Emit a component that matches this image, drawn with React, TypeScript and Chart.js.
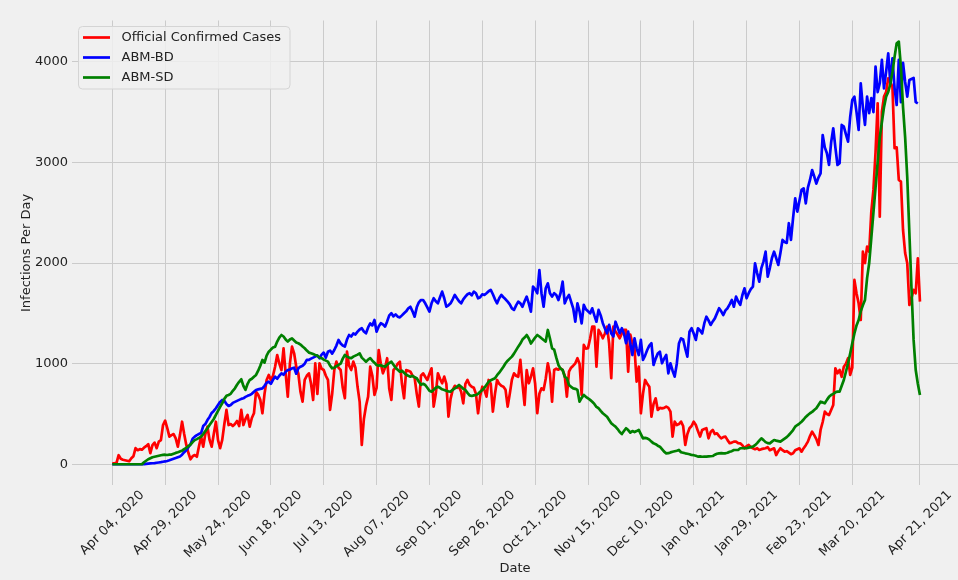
import { useEffect, useRef } from "react";
import { Chart, registerables } from "chart.js";

Chart.register(...registerables);

// x = days since Apr 04, 2020
const xTickDays = [0, 25, 50, 75, 100, 125, 150, 175, 200, 225, 250, 275, 300, 325, 350, 382];
const xTickLabels = [
  "Apr 04, 2020", "Apr 29, 2020", "May 24, 2020", "Jun 18, 2020", "Jul 13, 2020",
  "Aug 07, 2020", "Sep 01, 2020", "Sep 26, 2020", "Oct 21, 2020", "Nov 15, 2020",
  "Dec 10, 2020", "Jan 04, 2021", "Jan 29, 2021", "Feb 23, 2021", "Mar 20, 2021",
  "Apr 21, 2021",
];
const yTicks = [0, 1000, 2000, 3000, 4000];

const seriesNames = ["Official Confirmed Cases", "ABM-BD", "ABM-SD"];

const officialCases = [
  10, 10, 15, 90, 55, 45, 40, 35, 30, 60,
  80, 160, 140, 150, 145, 165, 180, 200, 110, 190,
  215, 160, 225, 240, 390, 433, 360, 275, 290, 300,
  258, 175, 290, 423, 300, 192, 112, 50, 80, 92,
  75, 180, 275, 175, 300, 374, 242, 175, 300, 423,
  240, 160, 242, 400, 540, 390, 400, 380, 400, 430,
  380, 540, 390, 450, 490, 374, 460, 507, 722, 690,
  640, 507, 700, 838, 888, 838, 880, 970, 1086, 1000,
  937, 1153, 900, 672, 1000, 1169, 1103, 970, 900, 720,
  622, 838, 880, 904, 800, 639, 1004, 700, 1004, 950,
  937, 880, 838, 540, 700, 937, 1020, 960, 937, 760,
  656, 1119, 980, 937, 1020, 960, 770, 620, 192, 450,
  580, 672, 970, 880, 689, 760, 1136, 1000, 904, 960,
  1054, 750, 639, 937, 960, 1000, 1020, 800, 656, 937,
  930, 920, 880, 860, 700, 573, 880, 904, 870, 838,
  900, 954, 573, 700, 904, 850, 805, 871, 800, 473,
  650, 740, 780, 760, 771, 720, 606, 800, 838, 790,
  771, 760, 700, 507, 680, 771, 740, 672, 838, 800,
  523, 700, 838, 800, 780, 771, 740, 573, 700, 840,
  904, 880, 870, 1037, 805, 590, 937, 805, 870, 954,
  800, 507, 700, 755, 739, 850, 1004, 900, 622, 937,
  950, 940, 954, 937, 880, 672, 920, 960, 980, 1004,
  1054, 1000, 689, 1186, 1150, 1153, 1250, 1368, 1368, 970,
  1335, 1300, 1252, 1300, 1368, 1200, 855, 1368, 1320, 1290,
  1252, 1300, 1335, 1335, 920, 1290, 1200, 1150, 821, 970,
  507, 700, 838, 800, 771, 473, 600, 656, 540, 560,
  556, 560, 573, 560, 523, 275, 424, 390, 400, 424,
  380, 192, 300, 358, 380, 424, 390, 330, 275, 341,
  350, 358, 258, 320, 341, 300, 308, 280, 258, 270,
  275, 240, 209, 215, 225, 225, 210, 208, 190, 159,
  180, 192, 170, 159, 150, 160, 142, 150, 155, 159,
  170, 140, 150, 159, 92, 130, 159, 140, 125, 130,
  115, 100, 109, 140, 150, 159, 125, 160, 190, 225,
  280, 324, 290, 250, 192, 341, 420, 523, 500, 490,
  540, 590, 954, 904, 937, 870, 970, 1000, 1054, 888,
  960, 1832, 1700, 1600, 1434, 2113, 2000, 2163, 2113, 2511,
  2727, 3100, 3588, 2461, 3505, 3654, 3700, 3837, 3800, 3750,
  3141, 3150, 2826, 2810, 2329, 2100, 1998, 1583, 1650, 1733,
  1700, 2048, 1617,
];

const abmBD = [
  0, 0, 0, 0, 0, 0, 0, 0, 0, 0,
  0, 0, 0, 0, 0, 2, 4, 6, 8, 10,
  12, 15, 18, 21, 25, 28, 33, 40, 48, 55,
  62, 70, 78, 95, 120, 140, 170, 200, 255, 275,
  290, 300, 310, 380, 400, 440, 470, 510, 530, 557,
  590, 620, 639, 630, 600, 580, 590, 610, 620, 630,
  640, 650, 656, 670, 680, 689, 700, 720, 739, 745,
  750, 755, 780, 810, 821, 800, 840, 871, 850, 880,
  904, 890, 920, 937, 940, 954, 960, 900, 954, 970,
  980, 1000, 1037, 1037, 1050, 1060, 1070, 1080, 1054, 1090,
  1110, 1060, 1119, 1130, 1100, 1136, 1180, 1236, 1200, 1180,
  1170, 1240, 1285, 1270, 1300, 1290, 1318, 1340, 1352, 1320,
  1302, 1360, 1400, 1380, 1434, 1318, 1370, 1402, 1390, 1368,
  1420, 1480, 1501, 1470, 1490, 1467, 1460, 1480, 1501, 1520,
  1550, 1566, 1520, 1467, 1560, 1610, 1633, 1633, 1600, 1560,
  1517, 1600, 1650, 1620, 1600, 1660, 1716, 1650, 1566, 1580,
  1600, 1640, 1683, 1650, 1620, 1600, 1640, 1666, 1690, 1700,
  1680, 1716, 1700, 1650, 1660, 1690, 1683, 1700, 1720, 1733,
  1690, 1640, 1600, 1650, 1683, 1660, 1640, 1616, 1590, 1550,
  1534, 1580, 1616, 1600, 1566, 1620, 1666, 1600, 1517, 1765,
  1740, 1700, 1931, 1700, 1566, 1750, 1799, 1700, 1666, 1700,
  1683, 1633, 1700, 1815, 1600, 1650, 1683, 1616, 1550, 1417,
  1600, 1520, 1400, 1584, 1540, 1520, 1500, 1550, 1480, 1417,
  1534, 1480, 1402, 1350, 1302, 1385, 1300, 1270, 1417, 1360,
  1302, 1352, 1300, 1203, 1318, 1200, 1086, 1252, 1150, 1086,
  1236, 1037, 1080, 1136, 1180, 1203, 987, 1050, 1100, 1119,
  1004, 1050, 1086, 904, 1004, 930, 871, 1000, 1200, 1252,
  1240, 1150, 1070, 1318, 1352, 1300, 1236, 1352, 1330, 1300,
  1400, 1467, 1430, 1385, 1420, 1450, 1500, 1551, 1520, 1484,
  1530, 1551, 1590, 1633, 1566, 1666, 1620, 1584, 1680, 1749,
  1650, 1700, 1740, 1765, 1998, 1900, 1815, 1950, 2014, 2113,
  1865, 1950, 2050, 2113, 2050, 1981, 2100, 2230, 2210, 2200,
  2396, 2230, 2450, 2644, 2511, 2620, 2727, 2743, 2594, 2750,
  2826, 2925, 2860, 2790, 2850, 2892, 3273, 3150, 3091, 2975,
  3200, 3340, 3150, 2975, 2992, 3373, 3356, 3280, 3207, 3450,
  3621, 3654, 3500, 3323, 3787, 3550, 3373, 3654, 3490, 3640,
  3500, 3952, 3700, 3787, 4019, 3737, 3900, 4085, 3787, 4035,
  3737, 3571, 4019, 3600, 3990, 3800, 3654, 3820, 3830, 3840,
  3600, 3588,
];

const abmSD = [
  0, 0, 0, 0, 0, 0, 0, 0, 0, 0,
  0, 0, 0, 0, 0, 20, 35, 50, 60, 70,
  75, 80, 85, 90, 93, 95, 92, 96, 96, 105,
  113, 120, 128, 135, 150, 163, 180, 196, 220, 240,
  250, 262, 275, 300, 330, 358, 390, 420, 450, 490,
  530, 570, 606, 650, 680, 689, 700, 730, 755, 790,
  820, 845, 780, 739, 800, 838, 850, 870, 888, 930,
  980, 1037, 1010, 1080, 1119, 1140, 1160, 1169, 1220, 1260,
  1285, 1270, 1240, 1219, 1240, 1252, 1230, 1210, 1203, 1190,
  1170, 1153, 1130, 1110, 1103, 1095, 1086, 1080, 1060, 1054,
  1040, 1030, 1020, 980, 954, 960, 975, 987, 1000, 1050,
  1086, 1070, 1060, 1054, 1070, 1080, 1090, 1103, 1060, 1040,
  1020, 1040, 1054, 1030, 1010, 987, 980, 985, 975, 970,
  990, 1005, 1020, 990, 960, 940, 920, 930, 910, 890,
  880, 871, 880, 865, 855, 820, 790, 800, 788, 760,
  730, 722, 740, 760, 771, 760, 745, 739, 730, 725,
  722, 740, 755, 770, 788, 770, 750, 739, 710, 685,
  679, 685, 689, 700, 720, 739, 760, 790, 821, 835,
  845, 855, 885, 910, 940, 970, 1004, 1030, 1050, 1070,
  1100, 1135, 1169, 1200, 1240, 1260, 1285, 1250, 1200, 1230,
  1260, 1285, 1270, 1252, 1235, 1220, 1335, 1250, 1153, 1140,
  1060, 987, 950, 937, 870, 855, 788, 770, 755, 750,
  739, 622, 660, 689, 670, 656, 640, 622, 600, 570,
  557, 530, 507, 490, 473, 440, 408, 390, 374, 350,
  320, 301, 330, 358, 340, 314, 330, 320, 330, 341,
  300, 258, 262, 258, 245, 225, 208, 200, 185, 175,
  150, 125, 109, 110, 118, 125, 130, 135, 142, 120,
  115, 109, 105, 100, 92, 90, 85, 76, 78, 75,
  76, 76, 78, 80, 82, 95, 105, 109, 110, 108,
  109, 115, 125, 130, 142, 142, 142, 159, 160, 162,
  159, 165, 170, 175, 190, 210, 235, 258, 240, 220,
  210, 208, 225, 241, 235, 230, 225, 240, 255, 270,
  291, 315, 340, 374, 390, 405, 423, 445, 470, 490,
  507, 520, 540, 557, 590, 622, 615, 606, 640, 670,
  689, 700, 715, 722, 722, 780, 838, 920, 1004, 1100,
  1203, 1300, 1380, 1434, 1520, 1580, 1633, 1850, 2000, 2250,
  2500, 2750, 3000, 3250, 3400, 3550, 3654, 3700, 3780, 3900,
  4050, 4185, 4201, 3950, 3550, 3250, 2850, 2300, 1750, 1236,
  937, 800, 689,
];

const COLORS = ["#ff0000", "#0000ff", "#008000"];
const FONT = "'DejaVu Sans', 'Liberation Sans', sans-serif";
const TEXT = "#222222";
const GRID = "#cbcbcb";

export default function App() {
  const ref = useRef<HTMLCanvasElement | null>(null);

  useEffect(() => {
    const canvas = ref.current;
    if (!canvas) return;
    const toPts = (arr: number[]) => arr.map((y, x) => ({ x, y }));

    const textPlugin = {
      id: "mplText",
      afterDraw(chart: any) {
        const ctx = chart.ctx as CanvasRenderingContext2D;
        const xs = chart.scales.x;
        const area = chart.chartArea;
        ctx.save();
        ctx.fillStyle = TEXT;
        ctx.font = `13px ${FONT}`;
        // rotated x tick labels, centred on the tick
        xTickDays.forEach((d, i) => {
          const px = xs.getPixelForValue(d);
          const label = xTickLabels[i];
          const w = ctx.measureText(label).width;
          const half = ((w + 13) * Math.SQRT1_2) / 2;
          ctx.save();
          ctx.translate(px, 488.5 + half);
          ctx.rotate(-Math.PI / 4);
          ctx.textAlign = "center";
          ctx.textBaseline = "middle";
          ctx.fillText(label, 0, 0);
          ctx.restore();
        });
        // axis titles
        ctx.textAlign = "center";
        ctx.textBaseline = "middle";
        ctx.fillText("Date", (area.left + area.right) / 2, 569);
        ctx.save();
        ctx.translate(27, (area.top + area.bottom) / 2);
        ctx.rotate(-Math.PI / 2);
        ctx.fillText("Infections Per Day", 0, 0);
        ctx.restore();

        // legend
        const bx = 78.5, by = 26.5, bw = 211.5, bh = 62.5, r = 4;
        ctx.beginPath();
        ctx.moveTo(bx + r, by);
        ctx.lineTo(bx + bw - r, by);
        ctx.arcTo(bx + bw, by, bx + bw, by + r, r);
        ctx.lineTo(bx + bw, by + bh - r);
        ctx.arcTo(bx + bw, by + bh, bx + bw - r, by + bh, r);
        ctx.lineTo(bx + r, by + bh);
        ctx.arcTo(bx, by + bh, bx, by + bh - r, r);
        ctx.lineTo(bx, by + r);
        ctx.arcTo(bx, by, bx + r, by, r);
        ctx.closePath();
        ctx.fillStyle = "rgba(240,240,240,0.85)";
        ctx.fill();
        ctx.strokeStyle = "#d4d4d4";
        ctx.lineWidth = 1;
        ctx.stroke();
        seriesNames.forEach((name, i) => {
          const y = 37.5 + i * 20;
          ctx.beginPath();
          ctx.moveTo(83, y);
          ctx.lineTo(110, y);
          ctx.strokeStyle = COLORS[i];
          ctx.lineWidth = 2.7;
          ctx.stroke();
          ctx.fillStyle = TEXT;
          ctx.textAlign = "left";
          ctx.textBaseline = "middle";
          ctx.fillText(name, 121.5, y);
        });
        ctx.restore();
      },
    };

    const chart = new Chart(canvas, {
      type: "line",
      data: {
        datasets: [
          { label: seriesNames[0], data: toPts(officialCases), borderColor: COLORS[0], order: 3 },
          { label: seriesNames[1], data: toPts(abmBD), borderColor: COLORS[1], order: 2 },
          { label: seriesNames[2], data: toPts(abmSD), borderColor: COLORS[2], order: 1 },
        ].map((d) => ({
          ...d,
          borderWidth: 2.7,
          pointRadius: 0,
          pointHoverRadius: 0,
          tension: 0,
          fill: false,
          borderJoinStyle: "round" as const,
          borderCapStyle: "butt" as const,
        })),
      },
      options: {
        responsive: false,
        animation: false,
        devicePixelRatio: 1,
        events: [],
        layout: { padding: { top: 20.5, left: 0, right: 0, bottom: 0 } },
        plugins: { legend: { display: false }, tooltip: { enabled: false }, title: { display: false } },
        scales: {
          x: {
            type: "linear",
            min: -19.06,
            max: 400,
            border: { display: false },
            grid: { color: GRID, lineWidth: 1, drawTicks: false },
            ticks: { display: false },
            afterBuildTicks: (scale: any) => {
              scale.ticks = xTickDays.map((v) => ({ value: v }));
            },
            afterFit: (scale: any) => {
              scale.height = 94.6;
            },
          },
          y: {
            type: "linear",
            min: -210,
            max: 4411,
            border: { display: false },
            grid: { color: GRID, lineWidth: 1, drawTicks: false },
            ticks: {
              color: TEXT,
              padding: 4,
              font: { family: FONT, size: 13 },
              callback: (v: any) => String(v),
            },
            afterBuildTicks: (scale: any) => {
              scale.ticks = yTicks.map((v) => ({ value: v }));
            },
            afterFit: (scale: any) => {
              scale.width = 72;
            },
          },
        },
      },
      plugins: [textPlugin],
    });
    return () => chart.destroy();
  }, []);

  return (
    <div
      style={{
        position: "fixed",
        left: 0,
        top: 0,
        width: 958,
        height: 580,
        background: "#f0f0f0",
      }}
    >
      <canvas ref={ref} width={958} height={580} style={{ display: "block", width: 958, height: 580 }} />
    </div>
  );
}
